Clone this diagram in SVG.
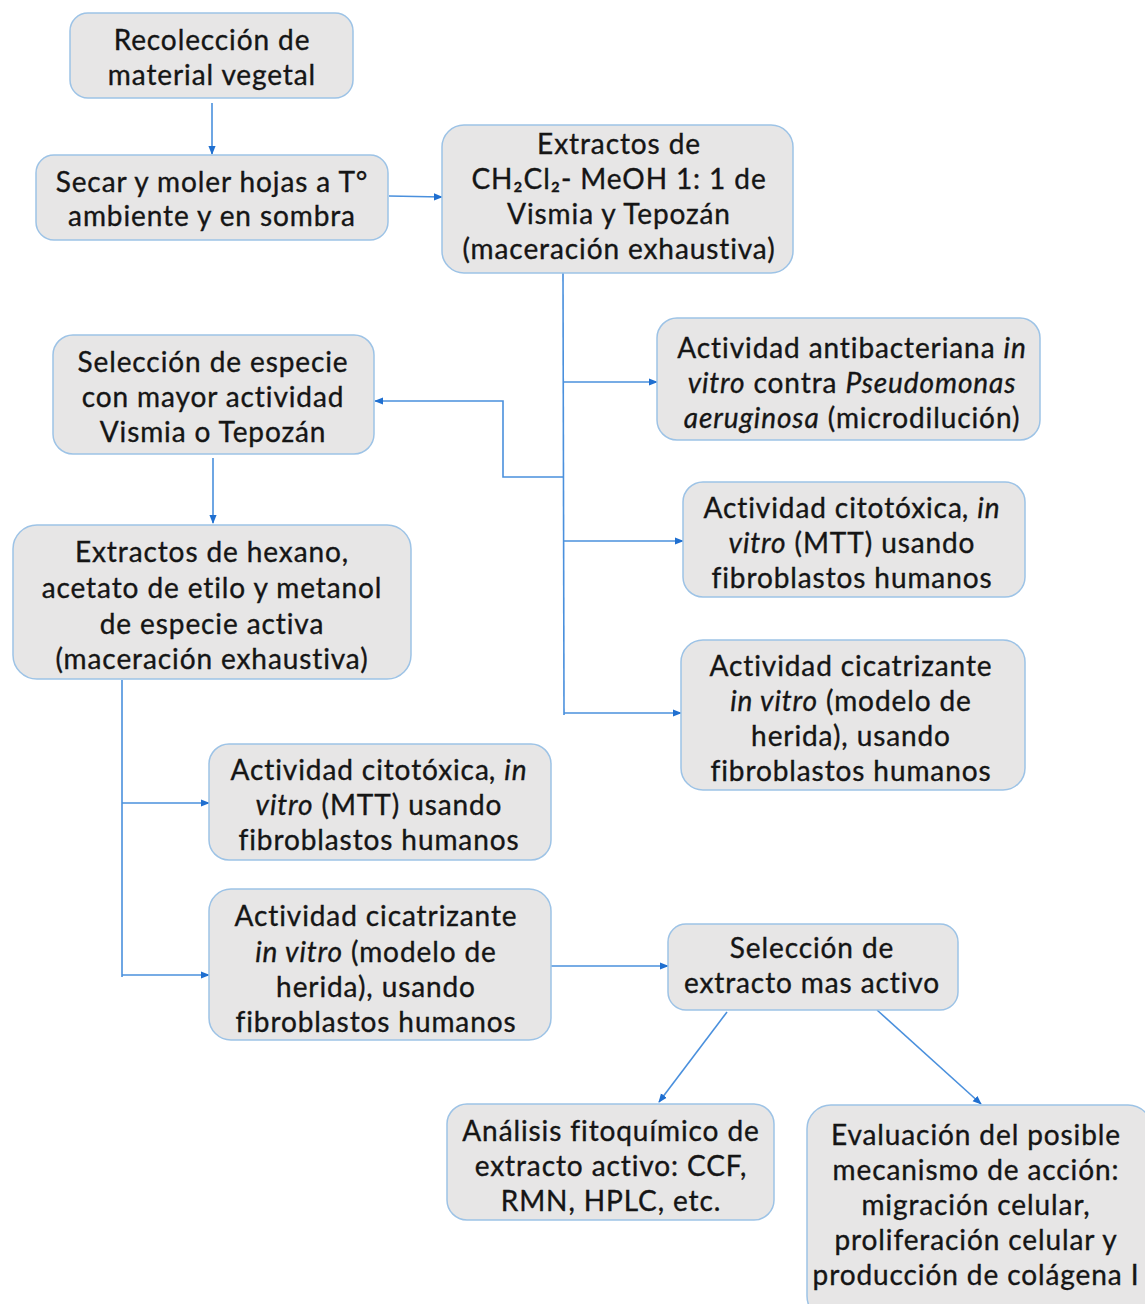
<svg xmlns="http://www.w3.org/2000/svg" width="1145" height="1304" viewBox="0 0 1145 1304">
<defs>
<style>
.box{fill:#e7e6e6;stroke:#9dc3e6;stroke-width:1.5}
.t{font-family:Lato,"Liberation Sans",sans-serif;font-size:28px;letter-spacing:0.9px;fill:#151515;stroke:#151515;stroke-width:0.35;text-anchor:middle}
.i{font-style:italic}
.c{fill:none;stroke:#4a90dd;stroke-width:1.6}
</style>
<marker id="ah" viewBox="0 0 10 10" refX="9" refY="5" markerWidth="9" markerHeight="9" markerUnits="userSpaceOnUse" orient="auto">
<path d="M0,1 L10,5 L0,9 Z" fill="#1f6fd0"/>
</marker>
</defs>
<rect width="1145" height="1304" fill="#ffffff"/>
<g id="connectors">
<line class="c" x1="212" y1="103" x2="212" y2="154" marker-end="url(#ah)"/>
<line class="c" x1="389" y1="196" x2="442" y2="197" marker-end="url(#ah)"/>
<line class="c" x1="563" y1="273" x2="564" y2="715"/>
<line class="c" x1="563" y1="382" x2="657" y2="382" marker-end="url(#ah)"/>
<line class="c" x1="564" y1="541" x2="683" y2="541" marker-end="url(#ah)"/>
<line class="c" x1="564" y1="713" x2="681" y2="713" marker-end="url(#ah)"/>
<polyline class="c" points="563,477 503,477 503,401 375,401" marker-end="url(#ah)"/>
<line class="c" x1="213" y1="458" x2="213" y2="523" marker-end="url(#ah)"/>
<line class="c" x1="122" y1="680" x2="122" y2="977"/>
<line class="c" x1="122" y1="803" x2="209" y2="803" marker-end="url(#ah)"/>
<line class="c" x1="122" y1="975" x2="209" y2="975" marker-end="url(#ah)"/>
<line class="c" x1="551" y1="966" x2="668" y2="966" marker-end="url(#ah)"/>
<line class="c" x1="727" y1="1012" x2="659" y2="1102" marker-end="url(#ah)"/>
<line class="c" x1="877" y1="1010" x2="981" y2="1104" marker-end="url(#ah)"/>
</g>
<g id="n1">
<rect class="box" x="70" y="13" width="283" height="85" rx="18"/>
<text class="t"><tspan x="212" y="50">Recolección de</tspan><tspan x="212" y="85">material vegetal</tspan></text>
</g>
<g id="n2">
<rect class="box" x="36" y="155" width="352" height="85" rx="18"/>
<text class="t"><tspan x="212" y="192">Secar y moler hojas a T°</tspan><tspan x="212" y="226">ambiente y en sombra</tspan></text>
</g>
<g id="n3">
<rect class="box" x="442" y="125" width="351" height="148" rx="22"/>
<text class="t"><tspan x="619" y="154">Extractos de</tspan><tspan x="619" y="189">CH₂Cl₂- MeOH 1: 1 de</tspan><tspan x="619" y="224">Vismia y Tepozán</tspan><tspan x="619" y="259">(maceración exhaustiva)</tspan></text>
</g>
<g id="n4">
<rect class="box" x="657" y="318" width="383" height="122" rx="20"/>
<text class="t"><tspan x="852" y="358">Actividad antibacteriana <tspan class="i">in</tspan></tspan><tspan x="852" y="393"><tspan class="i">vitro</tspan> contra <tspan class="i">Pseudomonas</tspan></tspan><tspan x="852" y="428"><tspan class="i">aeruginosa</tspan> (microdilución)</tspan></text>
</g>
<g id="n5">
<rect class="box" x="53" y="335" width="321" height="119" rx="20"/>
<text class="t"><tspan x="213" y="372">Selección  de especie</tspan><tspan x="213" y="407">con mayor actividad</tspan><tspan x="213" y="442">Vismia  o Tepozán</tspan></text>
</g>
<g id="n6">
<rect class="box" x="683" y="482" width="342" height="115" rx="20"/>
<text class="t"><tspan x="852" y="518">Actividad citotóxica<tspan class="i">, in</tspan></tspan><tspan x="852" y="553"><tspan class="i">vitro</tspan> (MTT) usando</tspan><tspan x="852" y="588">fibroblastos humanos</tspan></text>
</g>
<g id="n7">
<rect class="box" x="681" y="640" width="344" height="150" rx="22"/>
<text class="t"><tspan x="851" y="676">Actividad cicatrizante</tspan><tspan x="851" y="711"><tspan class="i">in vitro</tspan> (modelo de</tspan><tspan x="851" y="746">herida), usando</tspan><tspan x="851" y="781">fibroblastos humanos</tspan></text>
</g>
<g id="n8">
<rect class="box" x="13" y="525" width="398" height="154" rx="24"/>
<text class="t"><tspan x="212" y="562">Extractos de hexano,</tspan><tspan x="212" y="598">acetato de etilo y metanol</tspan><tspan x="212" y="634">de especie activa</tspan><tspan x="212" y="669">(maceración exhaustiva)</tspan></text>
</g>
<g id="n9">
<rect class="box" x="209" y="744" width="342" height="116" rx="20"/>
<text class="t"><tspan x="379" y="780">Actividad citotóxica<tspan class="i">, in</tspan></tspan><tspan x="379" y="815"><tspan class="i">vitro</tspan> (MTT) usando</tspan><tspan x="379" y="850">fibroblastos humanos</tspan></text>
</g>
<g id="n10">
<rect class="box" x="209" y="889" width="342" height="151" rx="22"/>
<text class="t"><tspan x="376" y="926">Actividad cicatrizante</tspan><tspan x="376" y="962"><tspan class="i">in vitro</tspan> (modelo de</tspan><tspan x="376" y="997">herida), usando</tspan><tspan x="376" y="1032">fibroblastos humanos</tspan></text>
</g>
<g id="n11">
<rect class="box" x="668" y="924" width="290" height="86" rx="18"/>
<text class="t"><tspan x="812" y="958">Selección  de</tspan><tspan x="812" y="993">extracto mas activo</tspan></text>
</g>
<g id="n12">
<rect class="box" x="447" y="1104" width="327" height="116" rx="20"/>
<text class="t"><tspan x="611" y="1141">Análisis fitoquímico de</tspan><tspan x="611" y="1176">extracto activo: CCF,</tspan><tspan x="611" y="1211">RMN, HPLC, etc.</tspan></text>
</g>
<g id="n13">
<rect class="box" x="807" y="1105" width="345" height="215" rx="24"/>
<text class="t"><tspan x="976" y="1145">Evaluación del posible</tspan><tspan x="976" y="1180">mecanismo de acción:</tspan><tspan x="976" y="1215">migración celular,</tspan><tspan x="976" y="1250">proliferación celular y</tspan><tspan x="976" y="1285">producción de colágena I</tspan></text>
</g>
</svg>
